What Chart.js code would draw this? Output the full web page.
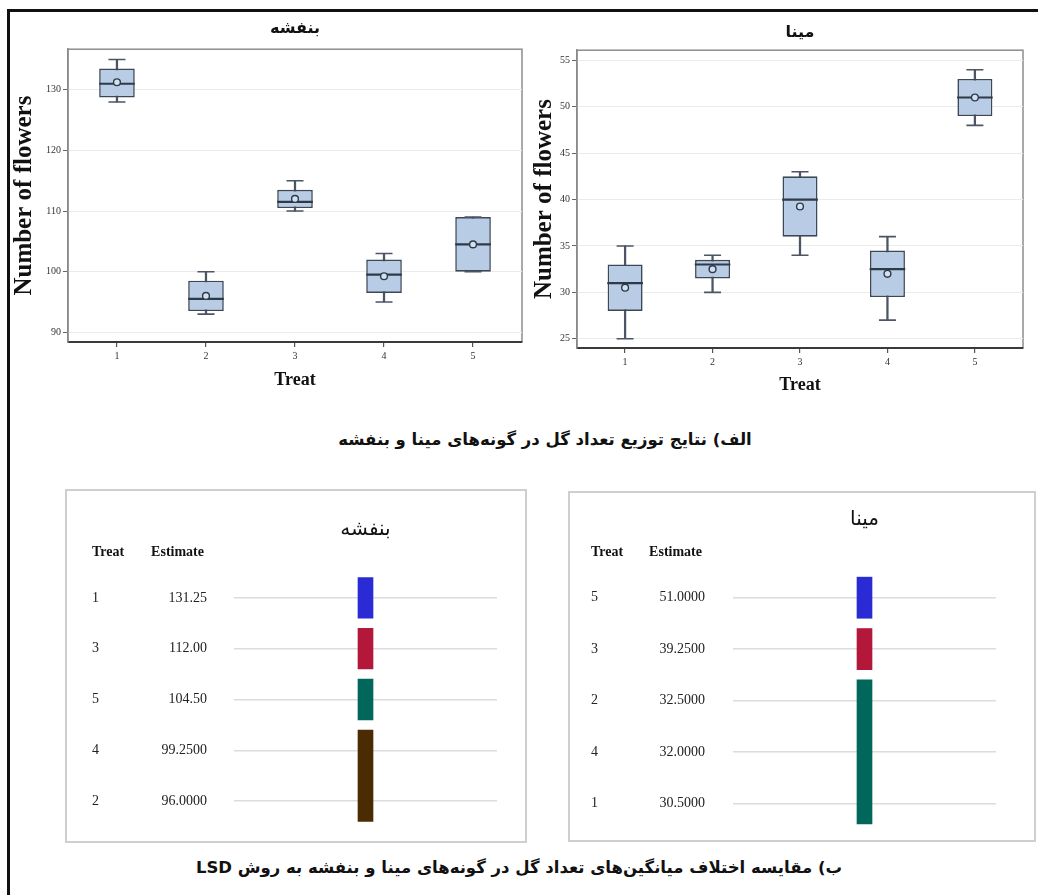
<!DOCTYPE html>
<html lang="fa">
<head>
<meta charset="utf-8">
<title>Number of flowers</title>
<script src="https://cdn.jsdelivr.net/npm/chart.js@4.4.1/dist/chart.umd.min.js"></script>
<style>
  html, body { margin: 0; padding: 0; background: #fff; }
  body { width: 1038px; height: 895px; position: relative; overflow: hidden; font-family: "DejaVu Sans", sans-serif; }
  .wrap { position: absolute; }
  .rule { position: absolute; background: #111; }
  .panel { position: absolute; border: 2px solid #cfcfcf; box-sizing: border-box; }
  .caption { position: absolute; direction: rtl; text-align: center; font-weight: bold; color: #111; white-space: nowrap; font-family: "DejaVu Sans", sans-serif; }
</style>
</head>
<body>
<div class="rule" style="left:7px; top:9px; width:1031px; height:3px;"></div>
<div class="rule" style="left:7px; top:9px; width:3px; height:886px;"></div>

<div class="wrap" style="left:10px; top:12px; width:520px; height:390px;"><canvas id="violetBox"></canvas></div>
<div class="wrap" style="left:530px; top:12px; width:508px; height:390px;"><canvas id="minaBox"></canvas></div>

<div class="caption" style="left:245px; top:430px; width:600px; font-size:16.5px;">الف) نتایج توزیع تعداد گل در گونه‌های مینا و بنفشه</div>

<div class="panel" style="left:65px; top:489px; width:462px; height:354px;"></div>
<div class="wrap" style="left:65px; top:489px; width:462px; height:354px;"><canvas id="violetLsd"></canvas></div>
<div class="panel" style="left:568px; top:491px; width:468px; height:351px;"></div>
<div class="wrap" style="left:568px; top:491px; width:468px; height:351px;"><canvas id="minaLsd"></canvas></div>

<div class="caption" style="left:119px; top:858px; width:800px; font-size:16.5px;">ب) مقایسه اختلاف میانگین‌های تعداد گل در گونه‌های مینا و بنفشه به روش LSD</div>

<script>
// Treatments shared by both species
const treatments = [1, 2, 3, 4, 5];

// بنفشه – box plot summaries per treatment
const violetMin    = [128, 93, 110, 95, 100];
const violetQ1     = [128.75, 93.5, 110.5, 96.5, 100];
const violetMedian = [131, 95.5, 111.5, 99.5, 104.5];
const violetQ3     = [133.5, 98.5, 113.5, 102, 109];
const violetMax    = [135, 100, 115, 103, 109];
const violetMean   = [131.25, 96, 112, 99.25, 104.5];
const violetTicks  = [90, 100, 110, 120, 130];

// مینا – box plot summaries per treatment
const minaMin    = [25, 30, 34, 27, 48];
const minaQ1     = [28, 31.5, 36, 29.5, 49];
const minaMedian = [31, 33, 40, 32.5, 51];
const minaQ3     = [33, 33.5, 42.5, 34.5, 53];
const minaMax    = [35, 34, 43, 36, 54];
const minaMean   = [30.5, 32.5, 39.25, 32, 51];
const minaTicks  = [25, 30, 35, 40, 45, 50, 55];

// LSD tables: row order, grouping letters and printed decimals
const violetRows     = [1, 3, 5, 4, 2];
const violetGroups   = ['A', 'B', 'C', 'D', 'D'];
const violetDecimals = [2, 2, 2, 4, 4];
const minaRows       = [5, 3, 2, 4, 1];
const minaGroups     = ['A', 'B', 'C', 'C', 'C'];
const minaDecimals   = [4, 4, 4, 4, 4];

const groupColors = ['#2b2bd6', '#b3183a', '#00675a', '#4b2c02'];

const SERIF = 'Liberation Serif';
const PERSIAN = 'DejaVu Sans';

// outline around the plotting area
const plotFrame = {
  id: 'plotFrame',
  beforeDraw(chart) {
    const { ctx, chartArea: a } = chart;
    ctx.save();
    ctx.strokeStyle = '#8d8d8d';
    ctx.lineWidth = 1.5;
    ctx.strokeRect(a.left, a.top, a.right - a.left, a.bottom - a.top);
    ctx.restore();
  }
};

function boxChart(id, s) {
  const pts = vals => treatments.map((t, i) => ({ x: t, y: vals[i] }));
  const spans = (lo, hi) => treatments.map((t, i) => ({ x: t, y: [lo[i], hi[i]] }));
  return new Chart(document.getElementById(id), {
    data: {
      datasets: [
        { type: 'bar', data: spans(s.min, s.max), backgroundColor: '#4b5563',
          grouped: false, barThickness: 1.6, order: 5 },
        { type: 'bar', data: spans(s.q1, s.q3), backgroundColor: '#b8cce6', borderColor: '#3d4857',
          borderWidth: 1.6, borderSkipped: false, grouped: false,
          categoryPercentage: 1, barPercentage: 0.4, order: 4 },
        { type: 'scatter', data: pts(s.min).concat(pts(s.max)), pointStyle: 'line',
          radius: 8.5, borderColor: '#4b5563', borderWidth: 1.6, order: 3 },
        { type: 'scatter', data: pts(s.median), pointStyle: 'line',
          radius: 17.8, borderColor: '#2f3a48', borderWidth: 2.2, order: 2 },
        { type: 'scatter', data: pts(s.mean), pointStyle: 'circle',
          radius: 3.4, backgroundColor: '#d3e0f1', borderColor: '#2f3a48', borderWidth: 1.4, order: 1 }
      ]
    },
    options: {
      responsive: true, maintainAspectRatio: false, animation: false,
      events: [],
      layout: { autoPadding: false, padding: { left: 0, right: s.padRight, top: 0, bottom: 0 } },
      plugins: {
        legend: { display: false }, tooltip: { enabled: false },
        title: { display: true, text: s.title, fullSize: false, color: '#111',
          font: { family: PERSIAN, size: 16, weight: 'bold', lineHeight: 1.2 },
          padding: { top: s.titleTop, bottom: s.titleBottom } }
      },
      scales: {
        x: {
          type: 'linear', min: 0.45, max: 5.55, offset: false,
          afterBuildTicks: sc => { sc.ticks = treatments.map(v => ({ value: v })); },
          afterFit: sc => { sc.height = s.xHeight; },
          grid: { offset: false, drawOnChartArea: false, tickLength: 5, tickColor: '#555', lineWidth: 1.2 },
          border: { color: '#3a3a3a', width: 2 },
          ticks: { font: { family: SERIF, size: 10 }, color: '#333', padding: 3 },
          title: { display: true, text: 'Treat', color: '#111',
            font: { family: SERIF, size: 18, weight: 'bold', lineHeight: 1.2 },
            padding: { top: 0, bottom: s.xTitleBottom } }
        },
        y: {
          type: 'linear', min: s.yMin, max: s.yMax,
          afterBuildTicks: sc => { sc.ticks = s.ticks.map(v => ({ value: v })); },
          afterFit: sc => { sc.width = s.yWidth; },
          grid: { color: '#ebebeb', lineWidth: 1, tickLength: 5, tickColor: '#666' },
          border: { color: '#8a8a8a', width: 1.5 },
          ticks: { font: { family: SERIF, size: 10 }, color: '#333', padding: 2 },
          title: { display: true, text: 'Number of flowers', color: '#111',
            font: { family: SERIF, size: 25, weight: 'bold', lineHeight: 1.2 },
            padding: { top: 0, bottom: 0 } }
        }
      }
    },
    plugins: [plotFrame]
  });
}

boxChart('violetBox', {
  title: 'بنفشه', min: violetMin, q1: violetQ1, median: violetMedian, q3: violetQ3,
  max: violetMax, mean: violetMean, ticks: violetTicks, yMin: 88.4, yMax: 136.7,
  yWidth: 58, padRight: 8, titleTop: 7, titleBottom: 11, xHeight: 60, xTitleBottom: 11
});
boxChart('minaBox', {
  title: 'مینا', min: minaMin, q1: minaQ1, median: minaMedian, q3: minaQ3,
  max: minaMax, mean: minaMean, ticks: minaTicks, yMin: 24.0, yMax: 56.1,
  yWidth: 47, padRight: 15, titleTop: 11, titleBottom: 8, xHeight: 54, xTitleBottom: 6
});

// column headers of the LSD table
const tableHeader = {
  id: 'tableHeader',
  afterDraw(chart, args, opts) {
    const { ctx, chartArea } = chart;
    const yT = chart.scales.yT, y = chart.scales.y;
    const yy = chartArea.top - opts.offset;
    ctx.save();
    ctx.font = 'bold 14px "' + SERIF + '"';
    ctx.fillStyle = '#111';
    ctx.textBaseline = 'middle';
    ctx.textAlign = 'left';
    ctx.fillText('Treat', yT.left, yy);
    ctx.textAlign = 'right';
    ctx.fillText('Estimate', y.right - y.options.ticks.padding - 3, yy);
    ctx.restore();
  }
};

function lsdChart(id, s) {
  const rowTicks = sc => { sc.ticks = s.rows.map((_, i) => ({ value: i + 1 })); };
  // the label columns sit beside the rows, they need no room above or below
  const fixWidth = w => sc => { sc.width = w; sc.paddingTop = 0; sc.paddingBottom = 0; };
  const estimates = s.rows.map(t => s.means[treatments.indexOf(t)]);
  // contiguous runs of the same letter form one group bar
  const runs = [];
  s.groups.forEach((g, i) => {
    const last = runs[runs.length - 1];
    if (last && last.g === g) last.end = i + 1;
    else runs.push({ g, start: i + 1, end: i + 1 });
  });
  return new Chart(document.getElementById(id), {
    type: 'bar',
    data: {
      datasets: [{
        data: runs.map(r => ({ x: 0.5, y: [r.start - 0.4, r.end + 0.4] })),
        backgroundColor: runs.map((r, k) => groupColors[k]),
        barThickness: 15, borderWidth: 0
      }]
    },
    options: {
      responsive: true, maintainAspectRatio: false, animation: false,
      events: [],
      layout: { autoPadding: false, padding: { left: s.padLeft, right: s.padRight, top: 0, bottom: s.padBottom } },
      plugins: {
        legend: { display: false }, tooltip: { enabled: false },
        title: { display: true, text: s.title, fullSize: false, color: '#111',
          font: { family: PERSIAN, size: 20, weight: 'normal', lineHeight: 1.2 },
          padding: { top: s.titleTop, bottom: s.titleBottom } },
        tableHeader: { offset: 20 }
      },
      scales: {
        x: { type: 'linear', display: false, min: 0, max: 1, offset: false },
        y: {
          type: 'linear', position: 'left', weight: 0, min: 0.5, max: 5.5, reverse: true,
          afterBuildTicks: rowTicks,
          afterFit: fixWidth(s.estWidth),
          grid: { color: '#dcdcdc', lineWidth: 1.5, drawTicks: false },
          border: { display: false },
          ticks: { padding: s.estPad, color: '#222', font: { family: SERIF, size: 14 },
            callback: v => estimates[Math.round(v) - 1].toFixed(s.decimals[Math.round(v) - 1]) }
        },
        yT: {
          type: 'linear', position: 'left', weight: 1, min: 0.5, max: 5.5, reverse: true,
          afterBuildTicks: rowTicks,
          afterFit: fixWidth(s.treatWidth),
          grid: { display: false, drawTicks: false },
          border: { display: false },
          ticks: { crossAlign: 'far', padding: 0, color: '#222', font: { family: SERIF, size: 14 },
            callback: v => String(s.rows[Math.round(v) - 1]) }
        }
      }
    },
    plugins: [tableHeader]
  });
}

lsdChart('violetLsd', {
  title: 'بنفشه', rows: violetRows, groups: violetGroups, decimals: violetDecimals, means: violetMean,
  padLeft: 27, padRight: 30, padBottom: 16.6, titleTop: 29, titleBottom: 30.6,
  treatWidth: 62, estWidth: 80, estPad: 27
});
lsdChart('minaLsd', {
  title: 'مینا', rows: minaRows, groups: minaGroups, decimals: minaDecimals, means: minaMean,
  padLeft: 23, padRight: 40, padBottom: 13, titleTop: 17, titleBottom: 40,
  treatWidth: 62, estWidth: 80, estPad: 28
});
</script>
</body>
</html>
